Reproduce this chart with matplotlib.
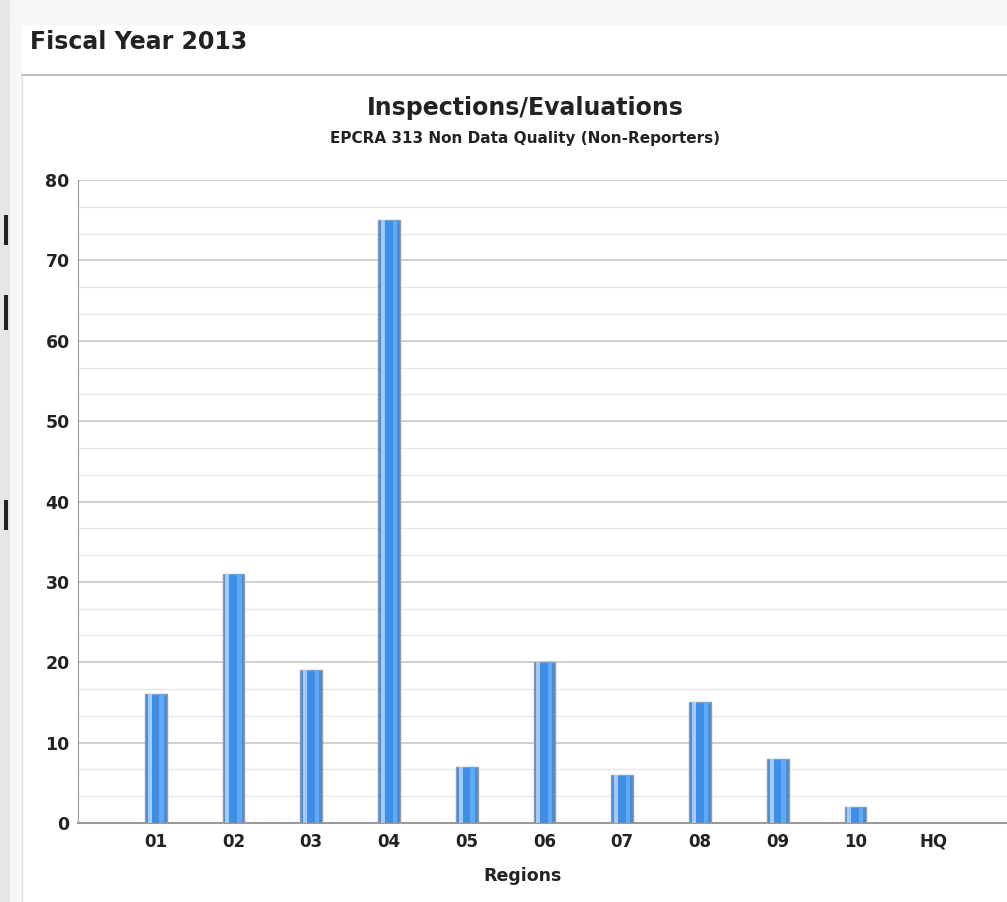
import matplotlib
matplotlib.use("Agg")
import matplotlib.pyplot as plt
from matplotlib.patches import Rectangle
from matplotlib.lines import Line2D
from matplotlib.ticker import MultipleLocator

regions = ["01", "02", "03", "04", "05", "06", "07", "08", "09", "10", "HQ"]
inspections = [16, 31, 19, 75, 7, 20, 6, 15, 8, 2, 0]
y_ticks = [0, 10, 20, 30, 40, 50, 60, 70, 80]

plt.rcParams['font.family'] = ['DejaVu Sans']

W, H = 1007, 902
fig = plt.figure(figsize=(W / 100, H / 100), dpi=100)
fig.patch.set_facecolor("white")

def px(x, y, w, h):
    return (x / W, 1 - (y + h) / H, w / W, h / H)

# page decorations
fig.patches.append(Rectangle((0, 1 - 25 / H), 1, 25 / H, transform=fig.transFigure,
                             facecolor="#f6f6f6", edgecolor="none", zorder=0))
fig.patches.append(Rectangle((0, 0), 10 / W, 1, transform=fig.transFigure,
                             facecolor="#e6e6e6", edgecolor="none", zorder=0))
fig.patches.append(Rectangle((10 / W, 0), 12 / W, 1 - 25 / H, transform=fig.transFigure,
                             facecolor="#f7f7f7", edgecolor="none", zorder=0))
for (y0, y1) in [(215, 245), (295, 330), (500, 530)]:
    fig.patches.append(Rectangle((4 / W, 1 - y1 / H), 4 / W, (y1 - y0) / H,
                                 transform=fig.transFigure, facecolor="#222222",
                                 edgecolor="none", zorder=1))
fig.lines.append(Line2D([22 / W, 1], [1 - 75 / H, 1 - 75 / H], transform=fig.transFigure,
                        color="#bdbdbd", lw=1.5))
fig.lines.append(Line2D([22 / W, 22 / W], [0, 1 - 75 / H], transform=fig.transFigure,
                        color="#e0e0e0", lw=1))

fig.text(30 / W, 1 - 42 / H, "Fiscal Year 2013", fontsize=17, fontweight="bold",
         ha="left", va="center", color="#222222")
fig.text(525 / W, 1 - 108 / H, "Inspections/Evaluations", fontsize=17, fontweight="bold",
         ha="center", va="center", color="#222222")
fig.text(525 / W, 1 - 138 / H, "EPCRA 313 Non Data Quality (Non-Reporters)", fontsize=11,
         fontweight="bold", ha="center", va="center", color="#222222")

ax = fig.add_axes(px(78, 180, 929, 643))
ax.set_facecolor("white")
x = list(range(len(regions)))

bw = 0.28
ax.bar(x, inspections, width=bw, color="#3d8ee6", edgecolor="#9a9a9a", linewidth=1.0, zorder=3)
ax.bar([i - bw * 0.28 for i in x], inspections, width=bw * 0.18, color="#a9c9ee",
       edgecolor="none", zorder=4)
ax.bar([i + bw * 0.27 for i in x], inspections, width=bw * 0.2, color="#62a8f2",
       edgecolor="none", zorder=4)

ax.set_xlim(-1, 10.95)
ax.set_ylim(0, 80)
ax.set_xticks(x)
ax.set_xticklabels(regions, fontsize=12, fontweight="bold", color="#222222")
ax.set_yticks(y_ticks)
ax.set_yticklabels([str(v) for v in y_ticks], fontsize=12.5, fontweight="bold", color="#222222")
ax.yaxis.set_minor_locator(MultipleLocator(10 / 3))
ax.tick_params(axis="x", length=0, pad=7)
ax.tick_params(axis="y", length=0, pad=6)
ax.tick_params(axis="y", which="minor", length=0)
ax.grid(axis="y", which="major", color="#c8c8c8", lw=1.2, zorder=1)
ax.grid(axis="y", which="minor", color="#e8e8e8", lw=1.0, zorder=1)
ax.set_axisbelow(True)
for s in ["top", "right"]:
    ax.spines[s].set_visible(False)
ax.spines["left"].set_color("#9a9a9a")
ax.spines["bottom"].set_color("#9a9a9a")
ax.spines["bottom"].set_linewidth(1.5)
ax.set_xlabel("Regions", fontsize=12.5, fontweight="bold", color="#222222", va="center")
ax.xaxis.set_label_coords((523 - 78) / 929, -(876 - 823) / 643)

fig.savefig("out.png", dpi=100, facecolor=fig.get_facecolor())
